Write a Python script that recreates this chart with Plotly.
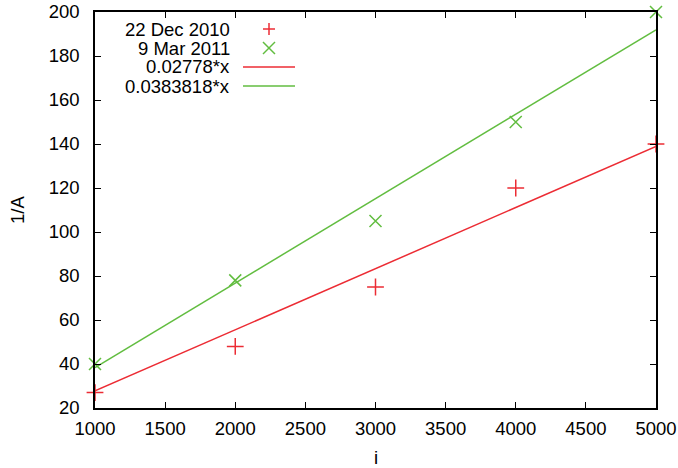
import plotly.graph_objects as go

# Data
x_vals = [1000, 2000, 3000, 4000, 5000]
dec2010 = [27, 48, 75, 120, 140]
mar2011 = [40, 78, 105, 150, 200]
fit_x = [1000, 5000]
fit_dec = [27.78, 138.9]
fit_mar = [38.3818, 191.909]
x_ticks = [1000, 1500, 2000, 2500, 3000, 3500, 4000, 4500, 5000]
y_ticks = [20, 40, 60, 80, 100, 120, 140, 160, 180, 200]
legend_labels = ["22 Dec 2010", "9 Mar 2011", "0.02778*x", "0.0383818*x"]

RED = "#ec2c34"
GREEN = "#62bd40"
FONT = "Liberation Sans, Arial, sans-serif"
FS = 18.5

fig = go.Figure()
fig.add_trace(go.Scatter(x=fit_x, y=fit_dec, mode="lines", line=dict(color=RED, width=1.5), showlegend=False))
fig.add_trace(go.Scatter(x=fit_x, y=fit_mar, mode="lines", line=dict(color=GREEN, width=1.5), showlegend=False))
fig.add_trace(go.Scatter(x=x_vals, y=dec2010, mode="markers", cliponaxis=False,
                         marker=dict(symbol="cross-thin", size=12, line=dict(color=RED, width=1.5)), showlegend=False))
fig.add_trace(go.Scatter(x=x_vals, y=mar2011, mode="markers", cliponaxis=False,
                         marker=dict(symbol="x-thin", size=12, line=dict(color=GREEN, width=1.5)), showlegend=False))

# Custom gnuplot-style legend (text right-aligned, sample on right)
L, R, T, B = 95, 22, 12, 60
W, H = 678 - L - R, 468 - T - B
def px_x(p):
    return (p - L) / W
def px_y(p):
    return 1 - (p - T) / H

rows = [29, 48, 67, 86]
for lab, ry in zip(legend_labels, rows):
    fig.add_annotation(text=lab, x=px_x(232), y=px_y(ry), xref="paper", yref="paper",
                       xanchor="right", yanchor="middle", showarrow=False,
                       font=dict(family=FONT, size=FS, color="black"))
cx = 269
s = 6
fig.add_shape(type="line", xref="paper", yref="paper", x0=px_x(cx - s), x1=px_x(cx + s), y0=px_y(rows[0]), y1=px_y(rows[0]), line=dict(color=RED, width=1.5))
fig.add_shape(type="line", xref="paper", yref="paper", x0=px_x(cx), x1=px_x(cx), y0=px_y(rows[0] - s), y1=px_y(rows[0] + s), line=dict(color=RED, width=1.5))
fig.add_shape(type="line", xref="paper", yref="paper", x0=px_x(cx - s), x1=px_x(cx + s), y0=px_y(rows[1] - s), y1=px_y(rows[1] + s), line=dict(color=GREEN, width=1.5))
fig.add_shape(type="line", xref="paper", yref="paper", x0=px_x(cx - s), x1=px_x(cx + s), y0=px_y(rows[1] + s), y1=px_y(rows[1] - s), line=dict(color=GREEN, width=1.5))
fig.add_shape(type="line", xref="paper", yref="paper", x0=px_x(243), x1=px_x(295), y0=px_y(rows[2]), y1=px_y(rows[2]), line=dict(color=RED, width=1.5))
fig.add_shape(type="line", xref="paper", yref="paper", x0=px_x(243), x1=px_x(295), y0=px_y(rows[3]), y1=px_y(rows[3]), line=dict(color=GREEN, width=1.5))

# Axis titles as annotations
fig.add_annotation(text="i", x=0.5, y=px_y(457), xref="paper", yref="paper", xanchor="center", yanchor="middle",
                   showarrow=False, font=dict(family=FONT, size=FS, color="black"))
fig.add_annotation(text="1/A", x=px_x(17), y=0.5, xref="paper", yref="paper", xanchor="center", yanchor="middle",
                   textangle=-90, showarrow=False, font=dict(family=FONT, size=FS, color="black"))

axis_common = dict(showgrid=False, zeroline=False, showline=True, linecolor="black", linewidth=1.5,
                   mirror="ticks", ticks="inside", ticklen=6, tickcolor="black", tickwidth=1,
                   automargin=False, tickfont=dict(family=FONT, size=FS, color="black"))
fig.update_xaxes(range=[1000, 5000], tickvals=x_ticks, ticktext=[str(v) for v in x_ticks],
                 ticklabelstandoff=3, **axis_common)
fig.update_yaxes(range=[20, 200], tickvals=y_ticks, ticktext=[str(v) for v in y_ticks],
                 ticklabelstandoff=10, **axis_common)
fig.update_layout(width=678, height=468, margin=dict(l=L, r=R, t=T, b=B, autoexpand=False),
                  plot_bgcolor="white", paper_bgcolor="white", showlegend=False)
fig.write_html("out.html", config={"displayModeBar": False},
               post_script="document.body.style.margin='0';")
